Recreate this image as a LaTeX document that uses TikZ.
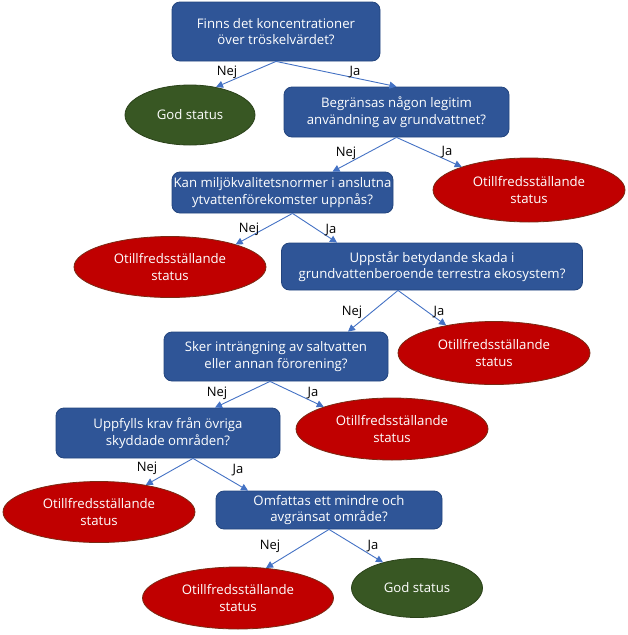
\documentclass[tikz,border=0pt]{standalone}
\usepackage{fontspec}
\setmainfont{Open Sans}
\usetikzlibrary{shapes.geometric,arrows.meta}
\definecolor{fragablue}{HTML}{2F5597}
\definecolor{fragakant}{HTML}{23457E}
\definecolor{otillrod}{HTML}{C00000}
\definecolor{rodkant}{HTML}{7A2A14}
\definecolor{godgron}{HTML}{385723}
\definecolor{gronkant}{HTML}{2A4219}
\definecolor{pilbla}{HTML}{4472C4}

\begin{document}
\begin{tikzpicture}[x=1pt, y=-1pt,
  fraga/.style={draw=fragakant, fill=fragablue, line width=0.8pt, rounded corners=8pt,
    text=white, align=center, inner sep=0pt, font=\fontsize{13.2}{16.5}\selectfont},
  otill/.style={ellipse, draw=rodkant, fill=otillrod, line width=0.8pt,
    text=white, align=center, inner sep=0pt, font=\fontsize{13.2}{16.5}\selectfont},
  god/.style={ellipse, draw=gronkant, fill=godgron, line width=0.8pt,
    text=white, align=center, inner sep=0pt, font=\fontsize{13.2}{16.5}\selectfont},
  pil/.style={draw=pilbla, line width=0.9pt, -{Triangle[length=7pt,width=7pt]}},
  svar/.style={font=\fontsize{13}{15}\selectfont, inner sep=0pt}]
  \useasboundingbox (0,0) rectangle (627,635);

  % Questions
  \node[fraga, minimum width=208, minimum height=59] (q1) at (276,31.5) {Finns det koncentrationer\\över tröskelvärdet?};
  \node[fraga, minimum width=225, minimum height=50] (q2) at (396.5,112) {Begränsas någon legitim\\användning av grundvattnet?};
  \node[fraga, minimum width=221, minimum height=41] (q3) at (282.5,192.5) {Kan miljökvalitetsnormer i anslutna\\ytvattenförekomster uppnås?};
  \node[fraga, minimum width=301, minimum height=47] (q4) at (432,266.5) {Uppstår betydande skada i\\grundvattenberoende terrestra ekosystem?};
  \node[fraga, minimum width=224, minimum height=49] (q5) at (276,356.5) {Sker inträngning av saltvatten\\eller annan förorening?};
  \node[fraga, minimum width=224, minimum height=50] (q6) at (168,433) {Uppfylls krav från övriga\\skyddade områden?};
  \node[fraga, minimum width=226, minimum height=38] (q7) at (329,510) {Omfattas ett mindre och\\avgränsat område?};

  % Outcomes
  \node[god, minimum width=130, minimum height=60] (g1) at (190,115) {God status};
  \node[otill, minimum width=192, minimum height=64] (r2) at (529,190) {Otillfredsställande\\status};
  \node[otill, minimum width=192, minimum height=61] (r3) at (170,267) {Otillfredsställande\\status};
  \node[otill, minimum width=192, minimum height=63] (r4) at (494,353) {Otillfredsställande\\status};
  \node[otill, minimum width=192, minimum height=62] (r5) at (392,429) {Otillfredsställande\\status};
  \node[otill, minimum width=192, minimum height=61] (r6) at (99,512) {Otillfredsställande\\status};
  \node[otill, minimum width=191, minimum height=62] (r7) at (238,598) {Otillfredsställande\\status};
  \node[god, minimum width=131, minimum height=59] (g2) at (417,588) {God status};

  % Arrows
  \draw[pil] (q1.south) -- (g1.47);
  \draw[pil] (q1.south) -- (q2.north);
  \draw[pil] (q2.south) -- ([xshift=50]q3.north);
  \draw[pil] (q2.south) -- (r2.161);
  \draw[pil] ([xshift=10]q3.south) -- (r3.19);
  \draw[pil] ([xshift=10]q3.south) -- ([xshift=-95]q4.north);
  \draw[pil] ([xshift=-34]q4.south) -- ([xshift=72]q5.north);
  \draw[pil] ([xshift=-34]q4.south) -- (r4.150);
  \draw[pil] ([xshift=-6]q5.south) -- ([xshift=47]q6.north);
  \draw[pil] ([xshift=-6]q5.south) -- (r5.162);
  \draw[pil] ([xshift=25]q6.south) -- (r6.30);
  \draw[pil] ([xshift=25]q6.south) -- ([xshift=-81]q7.north);
  \draw[pil] (q7.south) -- (r7.47);
  \draw[pil] (q7.south) -- (g2.143);

  % Answers
  \node[svar] (n1) at (227,72) {Nej};
  \node[svar] (j1) at (355,72) {Ja};
  \node[svar] (n2) at (346,153) {Nej};
  \node[svar] (j2) at (447,152) {Ja};
  \node[svar] (n3) at (249,229) {Nej};
  \node[svar] (j3) at (331,230) {Ja};
  \node[svar] (n4) at (352,312) {Nej};
  \node[svar] (j4) at (439,312) {Ja};
  \node[svar] (n5) at (217,393) {Nej};
  \node[svar] (j5) at (313,393) {Ja};
  \node[svar] (n6) at (147,468) {Nej};
  \node[svar] (j6) at (238,470) {Ja};
  \node[svar] (n7) at (270,546) {Nej};
  \node[svar] (j7) at (373,546) {Ja};
\end{tikzpicture}
\end{document}
